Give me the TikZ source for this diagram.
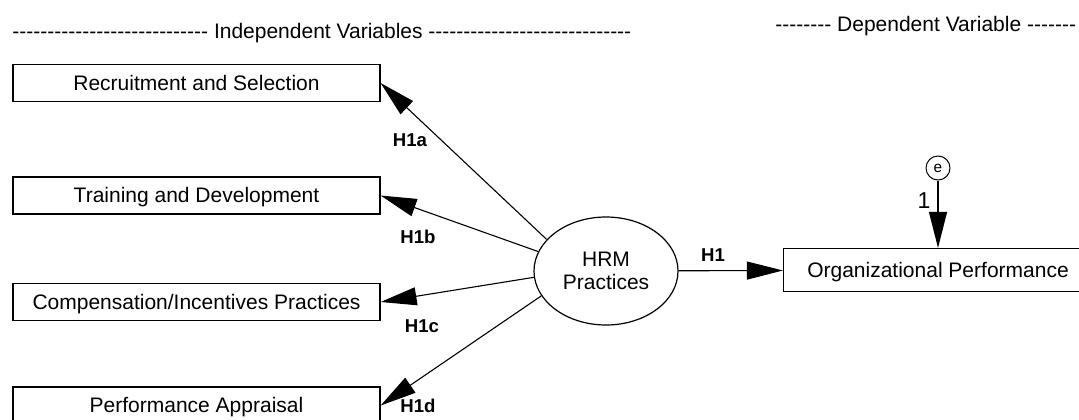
\documentclass[tikz,border=0pt]{standalone}
\usepackage{fontspec}
\setmainfont{Liberation Sans}
\usetikzlibrary{positioning, arrows.meta, shapes.geometric}

\newcommand{\dashrow}[1]{\foreach \k in {1,...,#1}{-\kern0pt}}

\tikzset{
  heading/.style={inner sep=0pt, font=\fontsize{10.5pt}{12pt}\selectfont},
  varbox/.style={draw, line width=0.6pt, minimum width=183.5pt, minimum height=18.5pt,
    inner sep=0pt, text height=0.72em, text depth=0pt, font=\fontsize{10.5pt}{12pt}\selectfont},
  latent/.style={draw, ellipse, line width=0.6pt, minimum width=72pt, minimum height=54pt,
    inner sep=0pt, align=center, font=\fontsize{10.5pt}{11.5pt}\selectfont},
  errcircle/.style={draw, circle, line width=0.5pt, minimum size=12pt, inner sep=0pt,
    font=\fontsize{7.7pt}{9pt}\selectfont},
  hpath/.style={-{Triangle[length=18pt, width=9pt]}, line width=0.55pt},
  hlabel/.style={inner sep=0pt, font=\fontsize{9.3pt}{11pt}\selectfont\bfseries}
}

\begin{document}
\begin{tikzpicture}[x=0.5pt, y=-0.5pt]
    \useasboundingbox (0,0) rectangle (1079,419);
    % Headings
    \node[heading, anchor=base west] (indep) at (12,38) {\dashrow{28} Independent Variables \dashrow{29}};
    \node[heading, anchor=base west] (dep) at (775,31) {\dashrow{8} Dependent Variable \dashrow{7}};
    % Independent variables
    \node[varbox] (rs) at (196.5,83) {Recruitment and Selection};
    \node[varbox] (td) at (196.5,195.5) {Training and Development};
    \node[varbox] (ci) at (196.5,302) {Compensation/Incentives Practices};
    \node[varbox] (pa) at (196.5,405.5) {Performance Appraisal};
    % Latent construct
    \node[latent] (hrm) at (606,271) {HRM\\Practices};
    % Dependent variable and its error term
    \node[varbox, minimum width=154.5pt, minimum height=21.5pt] (op) at (938,270) {Organizational Performance};
    \node[errcircle] (e) at (938,168) {e};
    % Hypothesised paths
    \draw[hpath] (hrm.152) -- (rs.east);
    \draw[hpath] (hrm.164) -- (td.east);
    \draw[hpath] (hrm.185) -- (ci.east);
    \draw[hpath] (hrm.201) -- (pa.east);
    \draw[hpath] (hrm) -- (op);
    \draw[hpath] (e) -- (op) node[pos=0.3, left=3.5pt, inner sep=0pt, font=\fontsize{11.5pt}{13pt}\selectfont] (one) {1};
    % Path labels
    \node[hlabel] (h1a) at (410,140) {H1a};
    \node[hlabel] (h1b) at (418,237) {H1b};
    \node[hlabel] (h1c) at (422,326) {H1c};
    \node[hlabel] (h1d) at (418,406) {H1d};
    \node[hlabel] (h1) at (713,255) {H1};
\end{tikzpicture}
\end{document}
